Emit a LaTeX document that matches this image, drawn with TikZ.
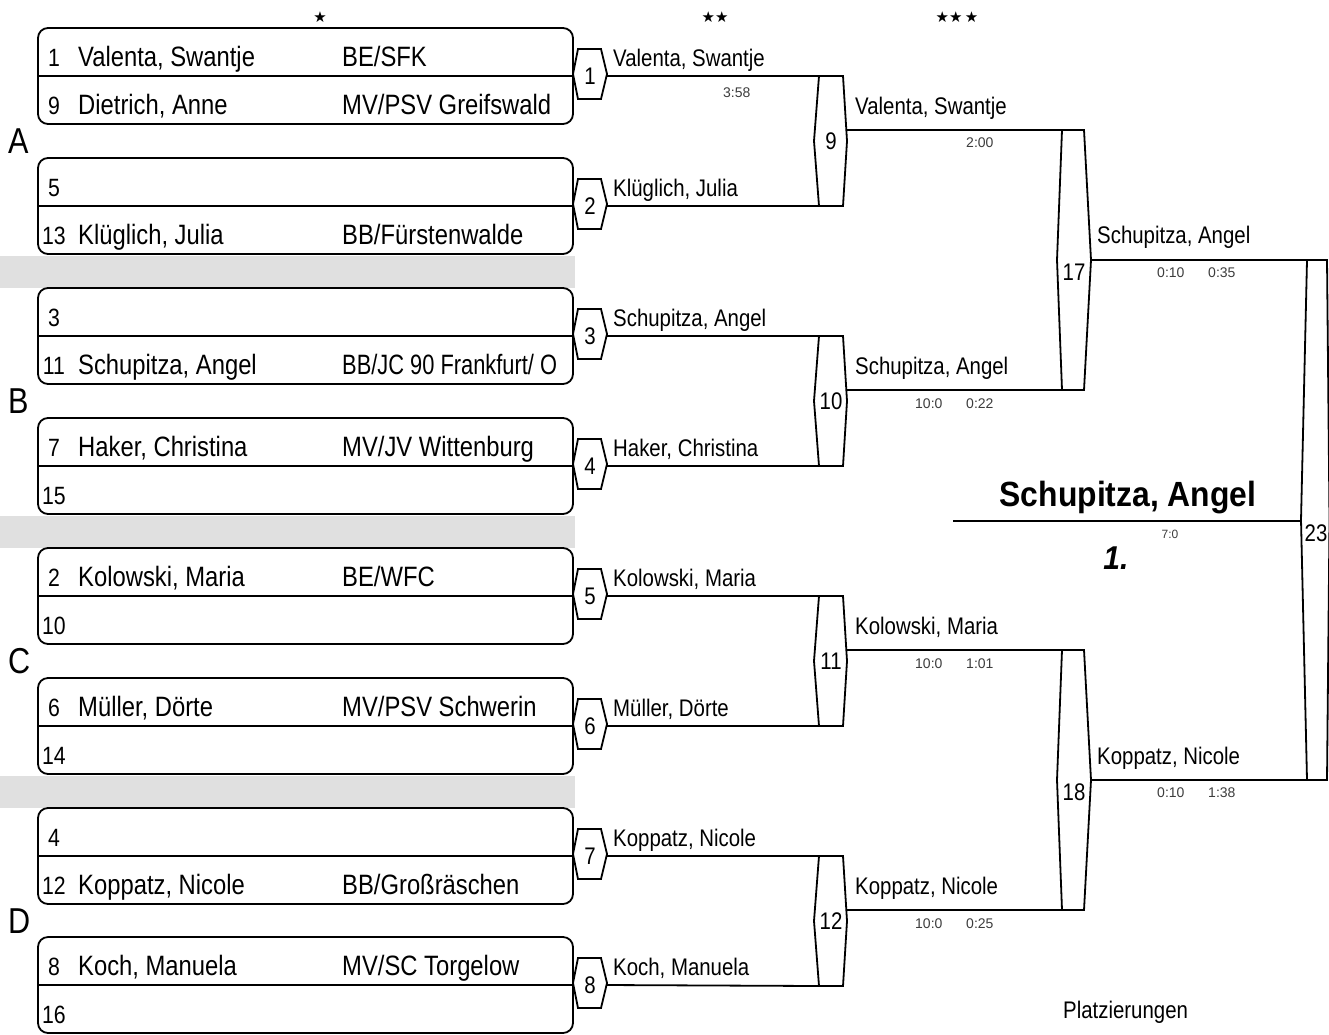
\documentclass[tikz,border=0pt]{standalone}
\usepackage{fontspec}
\setmainfont[FakeStretch=0.85]{Liberation Sans}
\newfontfamily\scorefont{Liberation Sans}
\newfontfamily\narrowfont[FakeStretch=0.78]{Liberation Sans}
\newfontfamily\finalfont[FakeStretch=0.91]{Liberation Sans}
\newfontfamily\starfont{DejaVu Sans}
\definecolor{bargray}{RGB}{224,224,224}
\definecolor{scoregray}{RGB}{60,60,60}
\tikzset{
  ln/.style={line width=1.8pt, line join=miter},
  boxtxt/.style={anchor=base west, inner sep=0pt, font=\fontsize{28}{30}\selectfont},
  seednum/.style={anchor=base, inner sep=0pt, font=\fontsize{25}{28}\selectfont},
  wintxt/.style={anchor=base west, inner sep=0pt, font=\fontsize{24}{26}\selectfont},
  score/.style={anchor=west, inner sep=0pt, text=scoregray, font=\scorefont\fontsize{14}{16}\selectfont},
  matchnum/.style={inner sep=0pt, font=\fontsize{24}{26}\selectfont},
  grp/.style={anchor=base west, inner sep=0pt, font=\fontsize{36}{40}\selectfont},
  starlbl/.style={inner sep=0pt, font=\starfont\fontsize{15}{16}\selectfont},
  pbox/.style={draw, line width=1.8pt, rounded corners=10pt, minimum width=535pt, minimum height=96pt, inner sep=0pt},
}
% player box: id, top
\newcommand\mkbox[2]{%
  \node[pbox] (box#1) at (305.5,#2+48) {};
  \draw[ln] (box#1.west) -- (box#1.east);
}
% full row: id, baseline, seed, name, club
\newcommand\prow[5]{%
  \node[seednum] (sd#1) at (54,#2) {#3};
  \node[boxtxt] (nm#1) at (78,#2) {#4};
  \node[boxtxt] (cl#1) at (342,#2) {#5};
}
% seed only: id, baseline, seed
\newcommand\pseed[3]{%
  \node[seednum] (sd#1) at (54,#2) {#3};
}
% first-round hexagon: id, cy
\newcommand\hexm[2]{%
  \draw[ln,fill=white] (573,#2-2)--(578,#2-27)--(601,#2-27)--(607,#2-2)--(601,#2+23)--(578,#2+23)--cycle;
  \node[matchnum] (m#1) at (590,#2) {#1};
  \coordinate (m#1out) at (606.6,#2);
}
% second-round shape: id, top
\newcommand\rtwo[2]{%
  \draw[ln] (819,#2)--(843,#2)--(847,#2+65)--(843,#2+130)--(819,#2+130)--(814,#2+65)--cycle;
  \node[matchnum] (m#1) at (831,#2+65) {#1};
  \coordinate (m#1ina) at (819,#2);
  \coordinate (m#1inb) at (819,#2+130);
  \coordinate (m#1out) at (846.3,#2+54);
}
% third-round shape: id, top
\newcommand\rthree[2]{%
  \draw[ln] (1062,#2)--(1084,#2)--(1091,#2+130)--(1084,#2+260)--(1062,#2+260)--(1057,#2+130)--cycle;
  \node[matchnum] (m#1) at (1074,#2+142) {#1};
  \coordinate (m#1ina) at (1062,#2);
  \coordinate (m#1inb) at (1062,#2+260);
  \coordinate (m#1out) at (1091,#2+130);
}
\begin{document}
\begin{tikzpicture}[x=1pt,y=-1pt]
\useasboundingbox (0,0) rectangle (1329,1034);

% grey separator bars
\fill[bargray] (0,256) rectangle (575,288);
\fill[bargray] (0,516) rectangle (575,548);
\fill[bargray] (0,776) rectangle (575,808);

% stars
\node[starlbl] (st1) at (320,17) {★};
\node[starlbl] (st2) at (715,17) {★★};
\node[starlbl] (st3) at (957,17) {★★\,★};

% group letters
\node[grp] (gA) at (8,153) {A};
\node[grp] (gB) at (8,413) {B};
\node[grp] (gC) at (8,673) {C};
\node[grp] (gD) at (8,933) {D};

% player boxes
\mkbox{1}{28}
\prow{1a}{66}{1}{Valenta, Swantje}{BE/SFK}
\prow{1b}{114}{9}{Dietrich, Anne}{MV/PSV Greifswald}
\mkbox{2}{158}
\pseed{2a}{196}{5}
\prow{2b}{244}{13}{Klüglich, Julia}{BB/Fürstenwalde}
\mkbox{3}{288}
\pseed{3a}{326}{3}
\prow{3b}{374}{11}{Schupitza, Angel}{\narrowfont BB/JC 90 Frankfurt/ O}
\mkbox{4}{418}
\prow{4a}{456}{7}{Haker, Christina}{MV/JV Wittenburg}
\pseed{4b}{504}{15}
\mkbox{5}{548}
\prow{5a}{586}{2}{Kolowski, Maria}{BE/WFC}
\pseed{5b}{634}{10}
\mkbox{6}{678}
\prow{6a}{716}{6}{Müller, Dörte}{MV/PSV Schwerin}
\pseed{6b}{764}{14}
\mkbox{7}{808}
\pseed{7a}{846}{4}
\prow{7b}{894}{12}{Koppatz, Nicole}{BB/Großräschen}
\mkbox{8}{937}
\prow{8a}{975}{8}{Koch, Manuela}{MV/SC Torgelow}
\pseed{8b}{1023}{16}

% first round matches
\hexm{1}{76}
\hexm{2}{206}
\hexm{3}{336}
\hexm{4}{466}
\hexm{5}{596}
\hexm{6}{726}
\hexm{7}{856}
\hexm{8}{985}

% second round
\rtwo{9}{76}
\rtwo{10}{336}
\rtwo{11}{596}
\rtwo{12}{856}

% third round
\rthree{17}{130}
\rthree{18}{650}

% final
\draw[ln] (1307,260)--(1327,260)--(1329.5,520)--(1327,780)--(1307,780)--(1301,520)--cycle;
\node[matchnum] (m23) at (1316,533) {23};
\coordinate (m23ina) at (1307,260);
\coordinate (m23inb) at (1307,780);
\coordinate (m23w) at (1301,521);
\coordinate (finl) at (953,521);

% connectors round 1 -> 2
\draw[ln] (m1out) -- (m9ina);
\draw[ln] (m2out) -- (m9inb);
\draw[ln] (m3out) -- (m10ina);
\draw[ln] (m4out) -- (m10inb);
\draw[ln] (m5out) -- (m11ina);
\draw[ln] (m6out) -- (m11inb);
\draw[ln] (m7out) -- (m12ina);
\draw[ln] (m8out) -- (m12inb);
% round 2 -> 3
\draw[ln] (m9out) -- (m17ina);
\draw[ln] (m10out) -- (m17inb);
\draw[ln] (m11out) -- (m18ina);
\draw[ln] (m12out) -- (m18inb);
% round 3 -> final
\draw[ln] (m17out) -- (m23ina);
\draw[ln] (m18out) -- (m23inb);
% winner line
\draw[ln] (finl) -- (m23w);

% round 1 winners
\node[wintxt] (w1) at (613,66) {Valenta, Swantje};
\node[wintxt] (w2) at (613,196) {Klüglich, Julia};
\node[wintxt] (w3) at (613,326) {Schupitza, Angel};
\node[wintxt] (w4) at (613,456) {Haker, Christina};
\node[wintxt] (w5) at (613,586) {Kolowski, Maria};
\node[wintxt] (w6) at (613,716) {Müller, Dörte};
\node[wintxt] (w7) at (613,846) {Koppatz, Nicole};
\node[wintxt] (w8) at (613,975) {Koch, Manuela};
\node[score] (s1) at (723,93) {3:58};

% round 2 winners
\node[wintxt] (w9) at (855,114) {Valenta, Swantje};
\node[wintxt] (w10) at (855,374) {Schupitza, Angel};
\node[wintxt] (w11) at (855,634) {Kolowski, Maria};
\node[wintxt] (w12) at (855,894) {Koppatz, Nicole};
\node[score] (s9b) at (966,143) {2:00};
\node[score] (s10a) at (915,404) {10:0};
\node[score] (s10b) at (966,404) {0:22};
\node[score] (s11a) at (915,664) {10:0};
\node[score] (s11b) at (966,664) {1:01};
\node[score] (s12a) at (915,924) {10:0};
\node[score] (s12b) at (966,924) {0:25};

% round 3 winners
\node[wintxt] (w17) at (1097,243) {Schupitza, Angel};
\node[wintxt] (w18) at (1097,764) {Koppatz, Nicole};
\node[score] (s17a) at (1157,273) {0:10};
\node[score] (s17b) at (1208,273) {0:35};
\node[score] (s18a) at (1157,793) {0:10};
\node[score] (s18b) at (1208,793) {1:38};

% final winner
\node[anchor=base, inner sep=0pt, font=\finalfont\bfseries\fontsize{35}{37}\selectfont] (champ) at (1128,506) {Schupitza, Angel};
\node[inner sep=0pt, text=scoregray, font=\scorefont\fontsize{12}{13}\selectfont] (sfin) at (1170,534) {7:0};
\node[inner sep=0pt, font=\finalfont\bfseries\itshape\fontsize{33}{35}\selectfont] (place) at (1116,558) {1.};

\node[anchor=base west, inner sep=0pt, font=\fontsize{24}{26}\selectfont] (plz) at (1063,1018) {Platzierungen};
\end{tikzpicture}
\end{document}
